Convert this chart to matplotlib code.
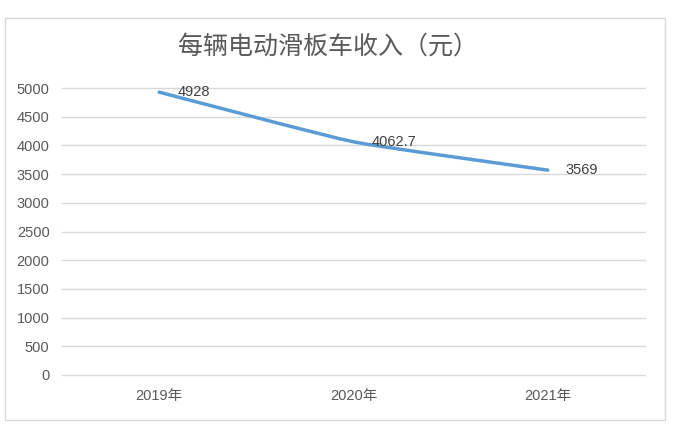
import matplotlib
matplotlib.use("Agg")
import matplotlib.pyplot as plt
from matplotlib.path import Path
from matplotlib.patches import PathPatch, Rectangle
import numpy as np

plt.rcParams['font.family'] = ['Liberation Sans', 'Noto Sans CJK SC', 'DejaVu Sans']

title = "每辆电动滑板车收入（元）"
categories = ["2019年", "2020年", "2021年"]
values = [4928, 4062.7, 3569]
labels = ["4928", "4062.7", "3569"]
yticks = [0, 500, 1000, 1500, 2000, 2500, 3000, 3500, 4000, 4500, 5000]

fig = plt.figure(figsize=(6.75, 4.32), dpi=100)
fig.patches.append(Rectangle((5/675, 1 - 420/432), 660/675, 402/432, transform=fig.transFigure,
                             fill=False, edgecolor='#D9D9D9', linewidth=1))
ax = fig.add_axes([62/675, 57/432, 583/675, 287/432])
n = len(categories)
ax.set_xlim(-0.5, n - 0.5)
ax.set_ylim(0, 5000)
ax.set_yticks(yticks)
ax.set_xticks(range(n))
ax.set_xticklabels(categories)
ax.grid(axis='y', color='#D9D9D9', linewidth=1)
for gl in ax.get_ygridlines():
    gl.set_clip_on(False)
ax.set_axisbelow(True)
for s in ax.spines.values():
    s.set_visible(False)
ax.tick_params(length=0, colors='#595959', labelsize=10.5)
ax.tick_params(axis='y', pad=9)
ax.tick_params(axis='x', pad=10)

# lightly smoothed line (cubic Bezier through the data points)
x = np.arange(n, dtype=float)
y = np.array(values, dtype=float)
pts = np.column_stack([x, y])
ext = np.vstack([pts[0], pts, pts[-1]])
k = 1 / 14
verts = [tuple(pts[0])]
codes = [Path.MOVETO]
for i in range(n - 1):
    p0, p1, p2, p3 = ext[i], ext[i + 1], ext[i + 2], ext[i + 3]
    c1 = p1 + (p2 - p0) * k
    c2 = p2 - (p3 - p1) * k
    verts += [tuple(c1), tuple(c2), tuple(p2)]
    codes += [Path.CURVE4] * 3
ax.add_patch(PathPatch(Path(verts, codes), fill=False, edgecolor='#5B9BD5', linewidth=2.5,
                       capstyle='round', joinstyle='round'))

for xi, yi, lab in zip(x, y, labels):
    ax.annotate(lab, (xi, yi), xytext=(13, 0), textcoords='offset points',
                ha='left', va='center', fontsize=10.5, color='#404040')

fig.text(328/675, 1 - 47/432, title, ha='center', va='center', fontsize=18,
         color='#595959', fontweight='light', family=['Noto Sans CJK SC', 'DejaVu Sans'])

fig.savefig('out.png', dpi=100)
